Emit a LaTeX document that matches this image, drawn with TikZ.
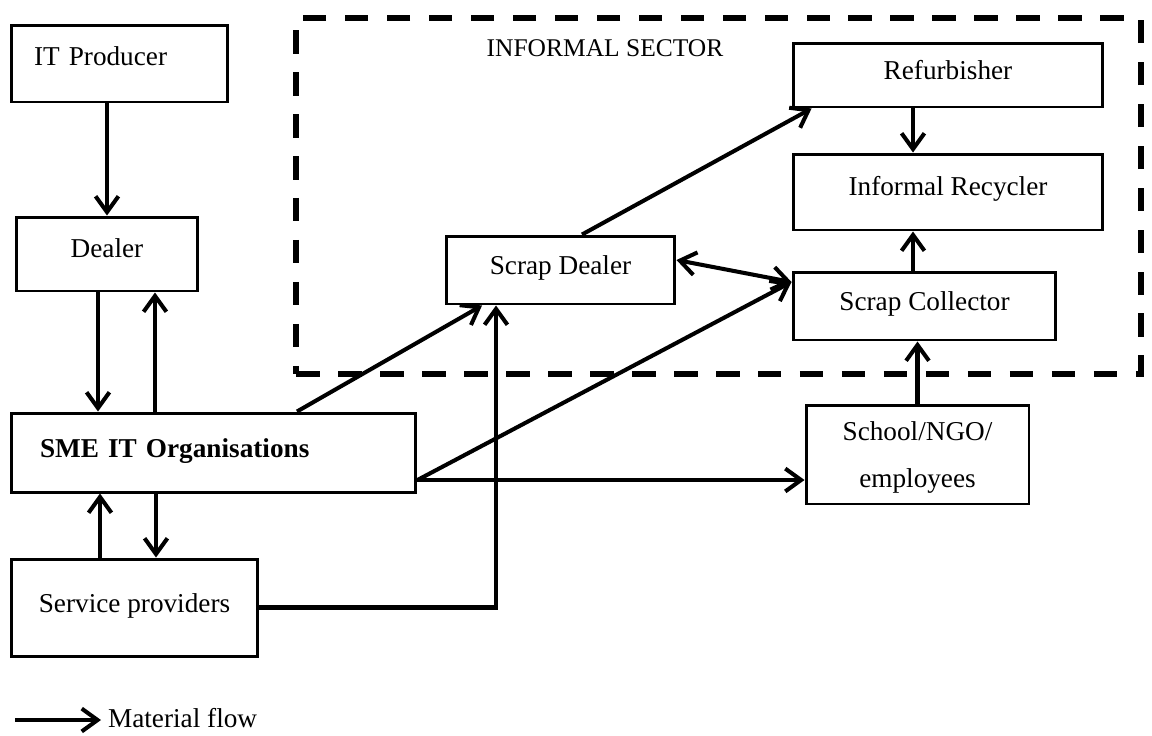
\documentclass[tikz,border=0pt]{standalone}
\usepackage{fontspec}
\setmainfont{Liberation Serif}
\usepackage{tikz}
\usetikzlibrary{positioning,arrows.meta,calc}
\tikzset{
    block/.style = {
        draw,
        shape=rectangle,
        inner sep=0pt,
        align=center,
        line width=1.7pt,
        font=\fontsize{15.5}{19}\selectfont
    },
    lift/.style = {
        text height=0.38cm,
        text depth=#1
    },
    lift/.default=0.2cm,
    sector/.style = {
        draw,
        shape=rectangle,
        inner sep=0pt,
        dash pattern=on 0.47cm off 0.37cm,
        line width=3.1pt
    },
    empty/.style = {
        shape=rectangle,
        inner sep=1pt,
        font=\fontsize{15.5}{19}\selectfont
    },
    flow/.style = {
        line width=2.3pt
    },
    >={Straight Barb[length=9pt,width=13pt]},
}
\begin{document}
\begin{tikzpicture}[x=0.02cm, y=-0.02cm]
            \useasboundingbox (0,0) rectangle (1152,735);

            \node[sector, minimum width=16.9cm, minimum height=7.12cm] (informal) at (718.5,196) {};
            \node[empty, font=\fontsize{14.5}{18}\selectfont] (sectorlabel) at (605,48) {INFORMAL SECTOR};

            \node[block, lift=0.32cm, minimum width=4.34cm, minimum height=1.54cm, text width=3.42cm, align=left] (itprod) at (119.5,63.5) {IT Producer};
            \node[block, lift=0.26cm, minimum width=3.64cm, minimum height=1.48cm] (dealer)    at (107,254)   {Dealer};
            \node[block, lift, minimum width=8.1cm, minimum height=1.58cm, text width=6.94cm, align=left] (sme) at (213.5,452.5) {\textbf{SME IT Organisations}};
            \node[block, lift, minimum width=4.94cm, minimum height=1.94cm] (service)   at (134.5,607.5) {Service providers};
            \node[block, lift, minimum width=4.58cm, minimum height=1.36cm] (scrapdeal) at (560.5,270)   {Scrap Dealer};
            \node[block, lift, minimum width=6.2cm,  minimum height=1.28cm] (refurb)    at (948,75)      {Refurbisher};
            \node[block, lift=0.26cm, minimum width=6.2cm,  minimum height=1.52cm] (recycler)  at (948,192)     {Informal Recycler};
            \node[block, lift, minimum width=5.26cm, minimum height=1.36cm] (collector) at (924.5,306)   {Scrap Collector};
            \node[block, minimum width=4.46cm, minimum height=1.98cm, font=\fontsize{15.5}{26.6}\selectfont] (school) at (917.5,454.5) {\rule{0pt}{0.5cm}School/NGO/\\employees};

            % lanes for the vertical links
            \coordinate (dealdown) at ([xshift=-0.18cm]dealer.south);
            \coordinate (dealup)   at ([xshift=0.96cm]dealer.south);
            \coordinate (servdown) at ([xshift=0.43cm]service.north);
            \coordinate (servup)   at ([xshift=-0.69cm]service.north);
            \coordinate (reclane)  at ([xshift=-0.7cm]refurb.south);
            \coordinate (smeout)   at ([yshift=-0.55cm]sme.east);
            \coordinate (colin)    at ([yshift=0.48cm]collector.west);

            \path[draw, ->, flow] (itprod.south -| dealer.north) -- (dealer.north);
            \path[draw, ->, flow] (dealdown) -- (dealdown |- sme.north);
            \path[draw, ->, flow] (dealup |- sme.north) -- (dealup);
            \path[draw, ->, flow] (servdown |- sme.south) -- (servdown);
            \path[draw, ->, flow] (servup) -- (servup |- sme.south);

            \path[draw, ->, flow] ([xshift=1.67cm]sme.north) -- ([xshift=-1.57cm]scrapdeal.south);
            \path[draw, ->, flow] (smeout) -- (colin);
            \path[draw, ->, flow] (smeout) -- (smeout -| school.west);
            \path[draw, ->, flow] (service.east) -| ([xshift=-1.29cm]scrapdeal.south);

            \path[draw, <->, flow] ([yshift=0.2cm]scrapdeal.east) -- (colin);
            \path[draw, ->, flow] ([xshift=0.43cm]scrapdeal.north) -- ([xshift=0.4cm]refurb.south west);
            \path[draw, ->, flow] (reclane) -- (reclane |- recycler.north);
            \path[draw, ->, flow] (reclane |- collector.north) -- (reclane |- recycler.south);
            \path[draw, ->, flow] (school.north) -- (school.north |- collector.south);

            % legend
            \coordinate (legstart) at (15,720);
            \node[empty, anchor=west] (legend) at (106,718) {Material flow};
            \path[draw, ->, flow] (legstart) -- ([xshift=-0.1cm]legstart -| legend.west);
        \end{tikzpicture}
\end{document}
